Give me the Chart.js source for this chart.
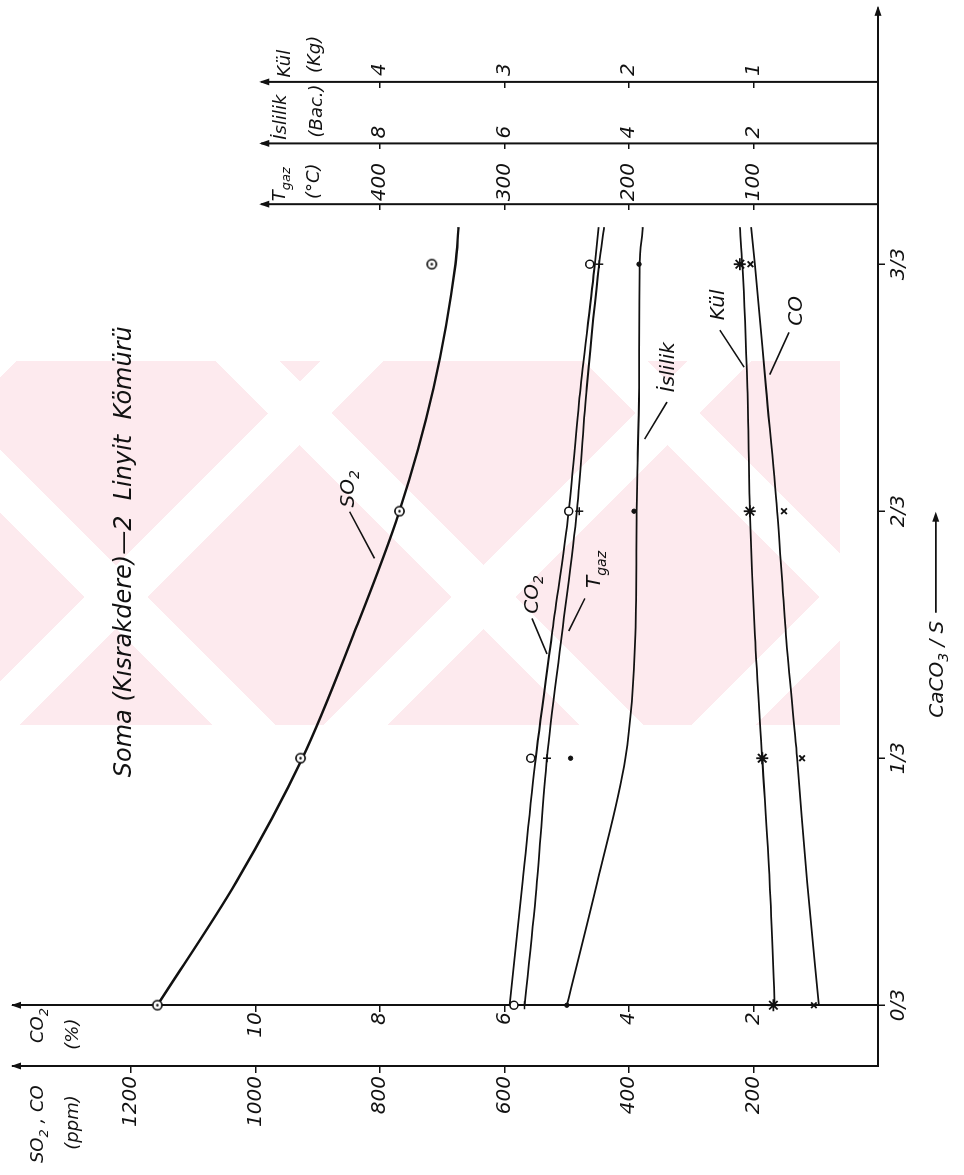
<!DOCTYPE html>
<html>
<head>
<meta charset="utf-8">
<script src="https://cdn.jsdelivr.net/npm/chart.js@4.4.0/dist/chart.umd.min.js"></script>
<style>
  html, body { margin: 0; padding: 0; background: #fff; overflow: hidden; }
  body { width: 964px; height: 1175px; position: relative; }
  /* soluk pembe filigran */
  #watermark {
    position: absolute; left: 0; top: 361px; width: 840px; height: 364px;
    background:
      repeating-linear-gradient(45deg, rgba(255,255,255,0) 0 150px, #fff 150px 195px, rgba(255,255,255,0) 195px 260px),
      repeating-linear-gradient(-45deg, rgba(255,255,255,0) 0 60px, #fff 60px 105px, rgba(255,255,255,0) 105px 260px),
      #fdeaee;
  }
  /* grafik yatay çizilip sayfada 90° döndürülüyor */
  #rot {
    position: absolute; left: 0; top: 0; width: 1175px; height: 964px;
    transform-origin: 0 0; transform: translate(0, 1175px) rotate(-90deg);
  }
</style>
</head>
<body>
<div id="watermark"></div>
<div id="rot"><canvas id="chart" width="1175" height="964"></canvas></div>
<script>
// --- Yatay eksen: CaCO3 / S ---
const xTickValues = [0, 1/3, 2/3, 1];
const xTickLabels = ['0/3', '1/3', '2/3', '3/3'];

// --- Ölçüm noktaları (0/3, 1/3, 2/3, 3/3) ---
const markerX = [0, 1/3, 2/3, 1];
const so2Points = [1158, 928, 769, 717];        // ppm
const coPoints = [103, 122, 151, 205];          // ppm
const co2Points = [5.85, 5.58, 4.97, 4.63];     // %
const tgazPoints = [284, 266, 240, 224];        // °C
const islilikPoints = [5.0, 4.94, 3.92, 3.84];  // Bacharach
const kulPoints = [0.84, 0.93, 1.03, 1.11];     // kg

// --- Elle çizilmiş eğriler ---
const curveX = [0, 1/6, 1/3, 1/2, 2/3, 5/6, 1, 1.05];
const so2Curve = [1158, 1031, 925, 843, 769, 714, 679, 674];
const coCurve = [95, 114, 130, 148, 162, 180, 198, 204];
const co2Curve = [5.92, 5.71, 5.50, 5.24, 4.97, 4.78, 4.55, 4.49];
const tgazCurve = [284, 274, 266, 254, 242, 234, 224, 220];
const islilikCurve = [5.0, 4.51, 4.06, 3.90, 3.88, 3.84, 3.83, 3.78];
const kulCurve = [0.83, 0.87, 0.93, 0.99, 1.03, 1.05, 1.09, 1.11];

// --- Eksen değerleri ---
const ppmTicks = [200, 400, 600, 800, 1000, 1200];
const co2Ticks = [2, 4, 6, 8, 10];
const tgazTicks = [100, 200, 300, 400];
const islilikTicks = [2, 4, 6, 8];
const kulTicks = [1, 2, 3, 4];

const INK = '#111';
const FONT = 'DejaVu Sans';
const X_MIN = -0.082, X_MAX = 1.346;
const PPM_MAX = 1390;
const TOP_AXIS_END = 991; // üst eksenlerin bittiği yer (ppm cinsinden)

// eksenlerin yatay eksen üzerindeki yerleri ve ppm'e göre ölçek
const axisAt = { ppm: X_MIN, co2: 0, tgaz: 1.081, islilik: 1.163, kul: 1.246 };
const axisFactor = { ppm: 1, co2: 0.01, tgaz: 0.5, islilik: 0.01, kul: 0.005 };
const axisTicks = { ppm: ppmTicks, co2: co2Ticks, tgaz: tgazTicks, islilik: islilikTicks, kul: kulTicks };
const labelSide = { ppm: ['left', 10], co2: ['left', 7], tgaz: ['right', 3], islilik: ['right', 5], kul: ['right', 6] };

const pts = (xs, ys) => xs.map((x, i) => ({ x: x, y: ys[i] }));

// ⊙ işareti
function dotCircle() {
  const c = document.createElement('canvas');
  c.width = 13; c.height = 13;
  const g = c.getContext('2d');
  g.strokeStyle = INK; g.lineWidth = 1.6; g.fillStyle = '#fff';
  g.beginPath(); g.arc(6.5, 6.5, 4.6, 0, Math.PI * 2); g.fill(); g.stroke();
  g.fillStyle = INK;
  g.beginPath(); g.arc(6.5, 6.5, 1.3, 0, Math.PI * 2); g.fill();
  return c;
}

const series = [
  { name: 'SO2', axis: 'ppm', points: so2Points, curve: so2Curve, marker: dotCircle(), radius: 5, bw: 1.5, fill: '#fff', width: 2.4 },
  { name: 'CO', axis: 'ppm', points: coPoints, curve: coCurve, marker: 'crossRot', radius: 4, bw: 1.8, fill: INK, width: 1.8 },
  { name: 'CO2', axis: 'co2', points: co2Points, curve: co2Curve, marker: 'circle', radius: 4, bw: 1.5, fill: '#fff', width: 1.8 },
  { name: 'Tgaz', axis: 'tgaz', points: tgazPoints, curve: tgazCurve, marker: 'cross', radius: 4, bw: 1.5, fill: INK, width: 1.8 },
  { name: 'İslilik', axis: 'islilik', points: islilikPoints, curve: islilikCurve, marker: 'circle', radius: 2.2, bw: 1, fill: INK, width: 1.8 },
  { name: 'Kül', axis: 'kul', points: kulPoints, curve: kulCurve, marker: 'star', radius: 6, bw: 1.8, fill: INK, width: 1.8 }
];

const datasets = [];
series.forEach(s => {
  datasets.push({
    label: s.name + ' ölçüm', data: pts(markerX, s.points), yAxisID: s.axis, order: 0,
    showLine: false, pointStyle: s.marker, pointRadius: s.radius,
    pointBorderColor: INK, pointBackgroundColor: s.fill, pointBorderWidth: s.bw
  });
  datasets.push({
    label: s.name, data: pts(curveX, s.curve), yAxisID: s.axis, order: 1,
    borderColor: INK, borderWidth: s.width, pointRadius: 0,
    cubicInterpolationMode: 'monotone', fill: false
  });
});

// --- Eksenler ---
function valueAxis(id) {
  return {
    type: 'linear', min: 0, max: PPM_MAX * axisFactor[id],
    position: { x: axisAt[id] },
    afterBuildTicks: s => { s.ticks = axisTicks[id].map(v => ({ value: v })); },
    ticks: { display: false },
    grid: { display: true, drawOnChartArea: false, drawTicks: true, tickLength: 6, color: INK, lineWidth: 1.5 },
    border: { display: id === 'ppm' || id === 'co2', color: INK, width: 2 }
  };
}

// --- Yazılar ---
const chartTitle = { runs: [['Soma (Kısrakdere)—2  Linyit  Kömürü', 0]], at: [0.612, 1214], size: 24 };
const xTitle = { runs: [['CaCO', 0], ['3', 1], [' / S', 0]], at: [0.388, -93], arrowTo: 0.666, size: 20 };
const axisTitles = [
  { runs: [['SO', 0], ['2', 1], [' , CO', 0]], at: [-0.213, 1352] },
  { runs: [['(ppm)', 0]], at: [-0.195, 1296] },
  { runs: [['CO', 0], ['2', 1]], at: [-0.051, 1352] },
  { runs: [['(%)', 0]], at: [-0.060, 1296] },
  { runs: [['T', 0], ['gaz', 1]], at: [1.085, 963] },
  { runs: [['(°C)', 0]], at: [1.088, 909] },
  { runs: [['İslilik', 0]], at: [1.168, 962] },
  { runs: [['(Bac.)', 0]], at: [1.171, 904] },
  { runs: [['Kül', 0]], at: [1.252, 955] },
  { runs: [['(Kg)', 0]], at: [1.258, 906] }
];
const curveLabels = [
  { runs: [['SO', 0], ['2', 1]], at: [0.697, 854], lead: [[0.666, 849], [0.603, 809]] },
  { runs: [['CO', 0], ['2', 1]], at: [0.5545, 558], lead: [[0.522, 556], [0.474, 532]] },
  { runs: [['T', 0], ['gaz', 1]], at: [0.588, 458], lead: [[0.549, 471], [0.505, 497]] },
  { runs: [['İslilik', 0]], at: [0.861, 339], lead: [[0.814, 339], [0.764, 375]] },
  { runs: [['Kül', 0]], at: [0.945, 259], lead: [[0.911, 254], [0.861, 215]] },
  { runs: [['CO', 0]], at: [0.937, 133], lead: [[0.908, 143], [0.851, 174]] }
];

function drawRuns(ctx, runs, x, y, size, align) {
  const fonts = runs.map(r => 'italic ' + (r[1] ? Math.round(size * 0.72) : size) + 'px "' + FONT + '"');
  let w = 0;
  runs.forEach((r, i) => { ctx.font = fonts[i]; w += ctx.measureText(r[0]).width; });
  let cx = align === 'center' ? x - w / 2 : (align === 'right' ? x - w : x);
  ctx.textAlign = 'left';
  ctx.textBaseline = 'alphabetic';
  runs.forEach((r, i) => {
    ctx.font = fonts[i];
    ctx.fillText(r[0], cx, y + size * 0.35 + (r[1] ? size * 0.28 : 0));
    cx += ctx.measureText(r[0]).width;
  });
  return w;
}

function arrowHead(ctx, x, y, dir) {
  const L = 10, W = 3.5;
  ctx.beginPath();
  if (dir === 'up') {
    ctx.moveTo(x, y); ctx.lineTo(x - W, y + L); ctx.lineTo(x + W, y + L);
  } else {
    ctx.moveTo(x, y); ctx.lineTo(x - L, y - W); ctx.lineTo(x - L, y + W);
  }
  ctx.closePath();
  ctx.fill();
}

const sketchPlugin = {
  id: 'sketch',
  afterDraw(chart) {
    const ctx = chart.ctx;
    const area = chart.chartArea;
    const X = v => chart.scales.x.getPixelForValue(v);
    const Y = v => chart.scales.ppm.getPixelForValue(v);
    ctx.save();
    ctx.fillStyle = INK;
    ctx.strokeStyle = INK;

    // kısa üst eksenler
    ['tgaz', 'islilik', 'kul'].forEach(id => {
      const ax = X(axisAt[id]);
      ctx.lineWidth = 2;
      ctx.beginPath(); ctx.moveTo(ax, Y(0)); ctx.lineTo(ax, Y(TOP_AXIS_END)); ctx.stroke();
      arrowHead(ctx, ax, Y(TOP_AXIS_END) - 2, 'up');
    });
    arrowHead(ctx, X(axisAt.ppm), area.top - 2, 'up');
    arrowHead(ctx, X(axisAt.co2), area.top - 2, 'up');
    arrowHead(ctx, area.right + 2, Y(0), 'right');

    // eksen sayıları
    Object.keys(axisTicks).forEach(id => {
      const s = chart.scales[id];
      const ax = X(axisAt[id]);
      const side = labelSide[id];
      ctx.font = 'italic 20px "' + FONT + '"';
      ctx.textBaseline = 'middle';
      ctx.textAlign = side[0] === 'left' ? 'right' : 'left';
      s.ticks.forEach(t => {
        const yy = s.getPixelForValue(t.value);
        ctx.fillText(String(t.value), side[0] === 'left' ? ax - side[1] : ax + side[1], yy);
      });
    });

    // eksen başlıkları
    axisTitles.forEach(t => drawRuns(ctx, t.runs, X(t.at[0]), Y(t.at[1]), 18, 'left'));

    // eğri adları ve gösterge çizgileri
    ctx.lineWidth = 1.6;
    curveLabels.forEach(c => {
      drawRuns(ctx, c.runs, X(c.at[0]), Y(c.at[1]), 20, 'center');
      ctx.beginPath();
      ctx.moveTo(X(c.lead[0][0]), Y(c.lead[0][1]));
      ctx.lineTo(X(c.lead[1][0]), Y(c.lead[1][1]));
      ctx.stroke();
    });

    // başlık
    drawRuns(ctx, chartTitle.runs, X(chartTitle.at[0]), Y(chartTitle.at[1]), chartTitle.size, 'center');

    // yatay eksen adı ve oku
    const tx = X(xTitle.at[0]), ty = Y(xTitle.at[1]);
    const w = drawRuns(ctx, xTitle.runs, tx, ty, xTitle.size, 'left');
    const ex = X(xTitle.arrowTo);
    ctx.lineWidth = 1.6;
    ctx.beginPath(); ctx.moveTo(tx + w + 8, ty); ctx.lineTo(ex - 6, ty); ctx.stroke();
    arrowHead(ctx, ex, ty, 'right');
    ctx.restore();
  }
};

Chart.defaults.font.family = FONT;
Chart.defaults.font.style = 'italic';
Chart.defaults.font.size = 20;
Chart.defaults.color = INK;

new Chart(document.getElementById('chart'), {
  type: 'line',
  data: { datasets: datasets },
  options: {
    responsive: false,
    animation: false,
    layout: { padding: { left: 109, right: 5, top: 13, bottom: 86 } },
    plugins: { legend: { display: false }, tooltip: { enabled: false } },
    scales: {
      x: {
        type: 'linear', min: X_MIN, max: X_MAX,
        position: { ppm: 0 },
        afterBuildTicks: s => { s.ticks = xTickValues.map(v => ({ value: v })); },
        ticks: { callback: (v, i) => xTickLabels[i], padding: 3, maxRotation: 0, autoSkip: false, color: INK },
        grid: { display: true, drawOnChartArea: false, drawTicks: true, tickLength: 6, color: INK, lineWidth: 1.5 },
        border: { display: true, color: INK, width: 2 }
      },
      ppm: valueAxis('ppm'),
      co2: valueAxis('co2'),
      tgaz: valueAxis('tgaz'),
      islilik: valueAxis('islilik'),
      kul: valueAxis('kul')
    }
  },
  plugins: [sketchPlugin]
});
</script>
</body>
</html>
